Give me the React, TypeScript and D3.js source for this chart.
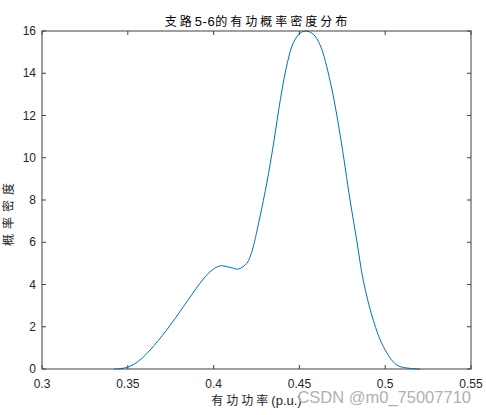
import React from "react";
import { scaleLinear, line, curveCatmullRom } from "d3";

// density curve: [power (p.u.), density]
const powerValues = [
  0.342, 0.346, 0.351, 0.357, 0.363, 0.3727, 0.3824, 0.3921, 0.3979, 0.4037,
  0.4096, 0.4144, 0.4193, 0.4212, 0.423, 0.427, 0.431, 0.435, 0.439, 0.443, 0.4465,
  0.4505, 0.454, 0.458, 0.462, 0.468, 0.4737, 0.4795, 0.4834, 0.4872, 0.4931,
  0.499, 0.5067, 0.5145, 0.5205
];
const densityValues = [
  0, 0.02, 0.12, 0.42, 0.9, 1.85, 2.95, 4.06, 4.6, 4.88,
  4.81, 4.73, 5.0, 5.3, 5.75, 7.2, 8.8, 10.7, 12.8, 14.5, 15.45,
  15.9, 16.0, 15.85, 15.35, 13.6, 11.1, 8.0, 6.1, 4.2, 2.3,
  1.05, 0.19, 0.03, 0
];
const xTicks = [0.3, 0.35, 0.4, 0.45, 0.5, 0.55];
const yTicks = [0, 2, 4, 6, 8, 10, 12, 14, 16];

const titleParts = ["支路", "5-6", "的有功概率密度分布"];
const xLabelCjk = "有功功率";
const xLabelUnit = "(p.u.)";
const yLabel = "概率密度";
const watermark = "CSDN @m0_75007710";

const WIDTH = 486;
const HEIGHT = 415;
const LEFT = 42;
const RIGHT = 471;
const TOP = 31;
const BOTTOM = 369;

export default function App() {
  const xScale = scaleLinear().domain([0.3, 0.55]).range([LEFT, RIGHT]);
  const yScale = scaleLinear().domain([0, 16]).range([BOTTOM, TOP]);

  const points: [number, number][] = powerValues.map((p, i) => [p, densityValues[i]]);
  const lineFn = line<[number, number]>()
    .x(d => xScale(d[0]))
    .y(d => yScale(d[1]))
    .curve(curveCatmullRom.alpha(0.5));

  const axisColor = "#404040";
  const textColor = "#262626";
  const font = "Arial, 'Liberation Sans', 'Noto Sans CJK SC', sans-serif";
  const cjk = "'Noto Sans CJK SC', sans-serif";

  return (
    <svg
      width={WIDTH}
      height={HEIGHT}
      style={{ position: "absolute", left: 0, top: 0, background: "#fff" }}
    >
      <rect x={0} y={0} width={WIDTH} height={HEIGHT} fill="#fff" />

      {/* curve */}
      <path d={lineFn(points)!} fill="none" stroke="#0072BD" strokeWidth={1} />

      {/* box */}
      <rect
        x={LEFT}
        y={TOP}
        width={RIGHT - LEFT}
        height={BOTTOM - TOP}
        fill="none"
        stroke={axisColor}
        strokeWidth={1}
      />

      {/* x ticks, bottom and top */}
      {xTicks.map(v => (
        <g key={v} transform={`translate(${xScale(v)}, 0)`}>
          <line y1={BOTTOM} y2={BOTTOM - 4} stroke={axisColor} />
          <line y1={TOP} y2={TOP + 4} stroke={axisColor} />
          <text
            y={BOTTOM + 19}
            textAnchor="middle"
            fontSize={12}
            fontFamily={font}
            fill={textColor}
          >
            {v}
          </text>
        </g>
      ))}

      {/* y ticks, left and right */}
      {yTicks.map(v => (
        <g key={v} transform={`translate(0, ${yScale(v)})`}>
          <line x1={LEFT} x2={LEFT + 4} stroke={axisColor} />
          <line x1={RIGHT} x2={RIGHT - 4} stroke={axisColor} />
          <text
            x={LEFT - 6}
            dy="0.35em"
            textAnchor="end"
            fontSize={12}
            fontFamily={font}
            fill={textColor}
          >
            {v}
          </text>
        </g>
      ))}

      <text
        x={(LEFT + RIGHT) / 2 + 1}
        y={26}
        textAnchor="middle"
        fontSize={12}
        fontFamily={cjk}
        fill="#000"
      >
        <tspan letterSpacing={3}>{titleParts[0]}</tspan>
        <tspan fontFamily={font} fontSize={13} letterSpacing={0.5}>{titleParts[1]}</tspan>
        <tspan letterSpacing={3}>{titleParts[2]}</tspan>
      </text>

      <text
        x={(LEFT + RIGHT) / 2}
        y={405}
        textAnchor="middle"
        fontSize={12}
        fontFamily={cjk}
        fill={textColor}
      >
        <tspan letterSpacing={3}>{xLabelCjk}</tspan>
        <tspan fontFamily={font} fontSize={13}>{xLabelUnit}</tspan>
      </text>

      <text
        transform={`translate(13, 212) rotate(-90)`}
        textAnchor="middle"
        fontSize={12}
        letterSpacing={5}
        fontFamily={cjk}
        fill={textColor}
      >
        {yLabel}
      </text>

      <text
        x={RIGHT}
        y={403}
        textAnchor="end"
        fontSize={16.5}
        fontFamily={font}
        fill="#b0b0b0"
      >
        {watermark}
      </text>
    </svg>
  );
}
